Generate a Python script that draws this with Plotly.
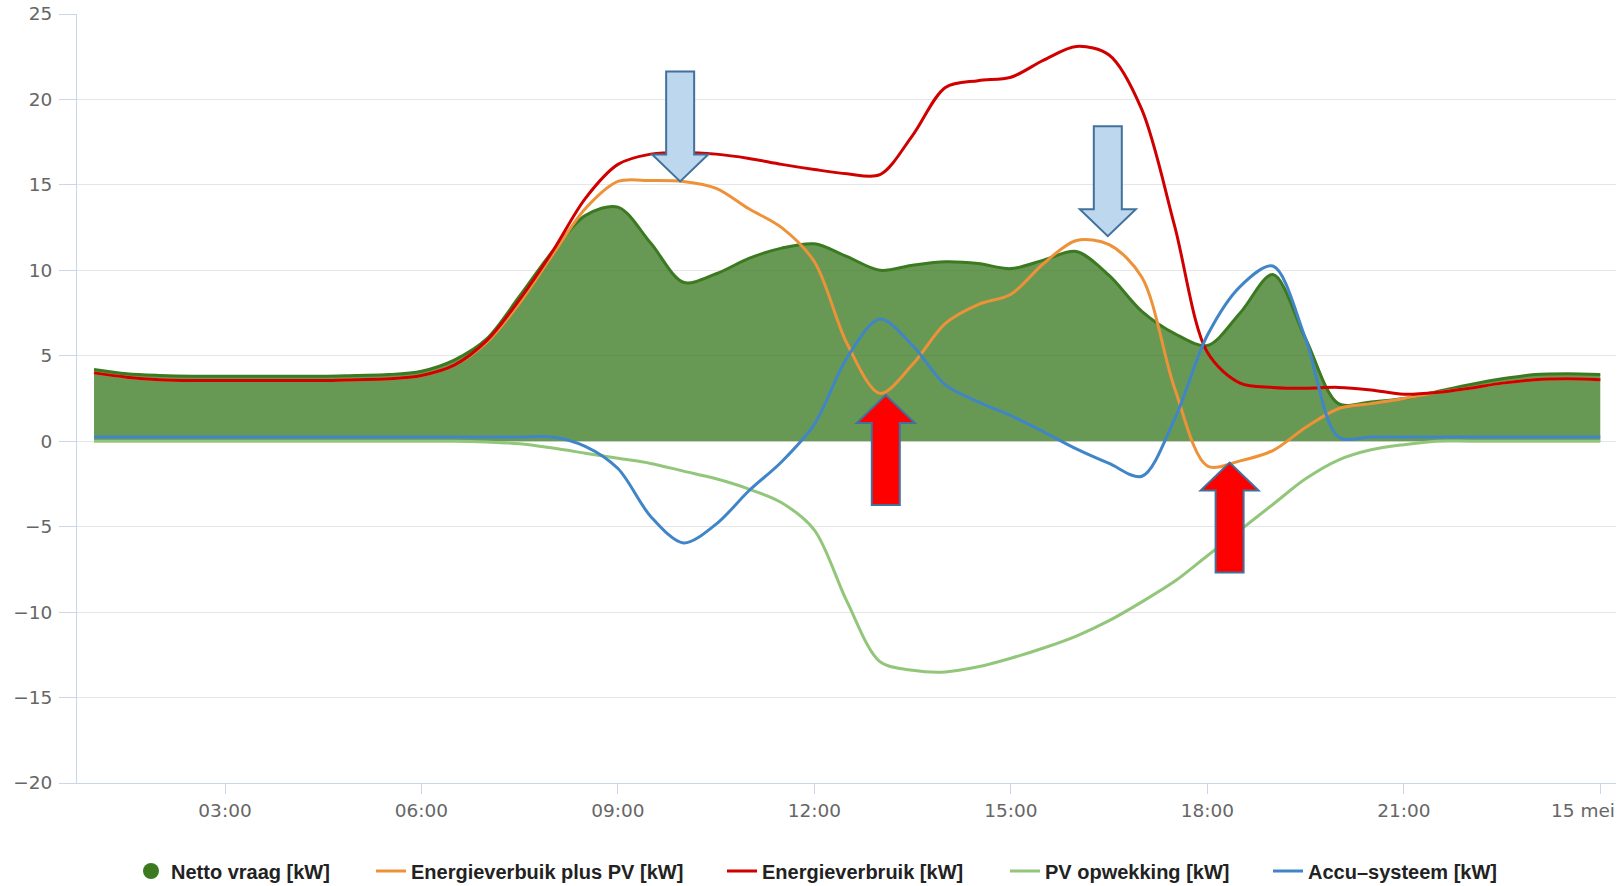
import plotly.graph_objects as go

# ---------------- data ----------------
hours = [1.0, 1.5, 2.0, 2.5, 3.0, 3.5, 4.0, 4.5, 5.0, 5.5, 6.0, 6.5, 7.0, 7.5,
         8.0, 8.5, 9.0, 9.5, 10.0, 10.5, 11.0, 11.5, 12.0, 12.5, 13.0, 13.5,
         14.0, 14.5, 15.0, 15.5, 16.0, 16.5, 17.0, 17.5, 18.0, 18.5, 19.0,
         19.5, 20.0, 20.5, 21.0, 21.5, 22.0, 22.5, 23.0, 23.5, 24.0]

netto_vraag = [4.2, 3.95, 3.85, 3.8, 3.8, 3.8, 3.8, 3.8, 3.85, 3.9, 4.1, 4.75,
               6.0, 8.5, 11.1, 13.2, 13.7, 11.6, 9.3, 9.8, 10.7, 11.3, 11.55,
               10.8, 10.0, 10.3, 10.5, 10.4, 10.1, 10.6, 11.1, 9.7, 7.6, 6.3,
               5.6, 7.5, 9.75, 6.0, 2.2, 2.3, 2.5, 2.9, 3.3, 3.65, 3.9, 3.95, 3.9]

verbruik_plus_pv = [4.0, 3.75, 3.6, 3.55, 3.55, 3.55, 3.55, 3.55, 3.6, 3.65, 3.85,
                    4.45, 5.8, 8.1, 10.9, 13.6, 15.2, 15.25, 15.2, 14.8, 13.6,
                    12.5, 10.5, 5.7, 2.8, 4.5, 6.9, 8.0, 8.6, 10.4, 11.75, 11.5,
                    9.6, 3.1, -1.45, -1.15, -0.55, 0.8, 1.9, 2.2, 2.5, 2.85,
                    3.1, 3.4, 3.6, 3.65, 3.6]

verbruik = [4.0, 3.75, 3.6, 3.55, 3.55, 3.55, 3.55, 3.55, 3.6, 3.65, 3.85, 4.45,
            5.9, 8.3, 11.1, 14.2, 16.2, 16.8, 16.9, 16.8, 16.55, 16.2, 15.9,
            15.65, 15.6, 17.9, 20.7, 21.1, 21.3, 22.3, 23.1, 22.6, 19.4, 12.6,
            5.2, 3.4, 3.15, 3.1, 3.15, 3.0, 2.75, 2.85, 3.1, 3.4, 3.6, 3.65, 3.6]

pv_opwekking = [0.0, 0.0, 0.0, 0.0, 0.0, 0.0, 0.0, 0.0, 0.0, 0.0, 0.0, 0.0,
                -0.05, -0.15, -0.4, -0.7, -1.0, -1.3, -1.75, -2.2, -2.8, -3.6,
                -5.2, -9.4, -12.9, -13.4, -13.5, -13.2, -12.7, -12.1, -11.4,
                -10.5, -9.4, -8.2, -6.7, -5.2, -3.7, -2.2, -1.1, -0.5, -0.2,
                0.0, 0.0, 0.0, 0.0, 0.0, 0.0]

accu_systeem = [0.25, 0.25, 0.25, 0.25, 0.25, 0.25, 0.25, 0.25, 0.25, 0.25, 0.25,
                0.25, 0.25, 0.25, 0.25, -0.3, -1.6, -4.4, -5.95, -4.85, -2.9,
                -1.2, 1.0, 4.9, 7.15, 5.6, 3.3, 2.3, 1.5, 0.55, -0.45, -1.3,
                -2.05, 1.3, 6.2, 9.05, 10.25, 6.0, 0.25, 0.25, 0.25, 0.25, 0.25,
                0.25, 0.25, 0.25, 0.25]

series_names = ["Netto vraag [kW]", "Energieverbuik plus PV [kW]",
                "Energieverbruik [kW]", "PV opwekking [kW]", "Accu\u2013systeem [kW]"]

x_tick_vals = [3, 6, 9, 12, 15, 18, 21, 24]
x_tick_text = ["03:00", "06:00", "09:00", "12:00", "15:00", "18:00", "21:00", "15 mei"]
y_tick_vals = [-20, -15, -10, -5, 0, 5, 10, 15, 20, 25]

# ---------------- styling ----------------
C_GREEN = "rgb(59,122,33)"
C_GREEN_FILL = "rgba(59,122,33,0.77)"
C_ORANGE = "rgb(238,146,57)"
C_RED = "rgb(208,0,0)"
C_PV = "rgb(146,198,122)"
C_BLUE = "rgb(64,133,199)"
AXIS_C = "#ccd6eb"
GRID_C = "#e6e6e6"
LW = 3

fig = go.Figure()

fig.add_trace(go.Scatter(x=hours, y=netto_vraag, name=series_names[0], mode="lines",
                         line=dict(color=C_GREEN, width=LW, shape="spline", smoothing=0.9),
                         fill="tozeroy", fillcolor=C_GREEN_FILL, showlegend=False))
# legend entry for the area (round symbol as in the reference)
fig.add_trace(go.Scatter(x=[None], y=[None], name=series_names[0], mode="markers",
                         marker=dict(color=C_GREEN, size=22), legend="legend"))
fig.add_trace(go.Scatter(x=hours, y=verbruik_plus_pv, name=series_names[1], mode="lines",
                         line=dict(color=C_ORANGE, width=LW, shape="spline", smoothing=0.9),
                         legend="legend2"))
fig.add_trace(go.Scatter(x=hours, y=verbruik, name=series_names[2], mode="lines",
                         line=dict(color=C_RED, width=LW, shape="spline", smoothing=0.9),
                         legend="legend3"))
fig.add_trace(go.Scatter(x=hours, y=pv_opwekking, name=series_names[3], mode="lines",
                         line=dict(color=C_PV, width=LW, shape="spline", smoothing=0.9),
                         legend="legend4"))
fig.add_trace(go.Scatter(x=hours, y=accu_systeem, name=series_names[4], mode="lines",
                         line=dict(color=C_BLUE, width=LW, shape="spline", smoothing=0.9),
                         legend="legend5"))

# ---------------- block arrows (annotation shapes, tip anchored in data space) ----------------
arrow_tips = [(9.95, 15.2, "down"), (16.48, 12.0, "down"), (13.09, 2.7, "up"), (18.34, -1.25, "up")]
DOWN_PATH = "M -14,110 L 14,110 L 14,27 L 28,27 L 0,0 L -28,27 L -14,27 Z"
UP_PATH = "M -14,-110 L 14,-110 L 14,-28 L 29,-28 L 0,0 L -29,-28 L -14,-28 Z"
for hx, vy, kind in arrow_tips:
    fig.add_shape(type="path", xref="x", yref="y", xsizemode="pixel", ysizemode="pixel",
                  xanchor=hx, yanchor=vy,
                  path=DOWN_PATH if kind == "down" else UP_PATH,
                  fillcolor="#bdd7ee" if kind == "down" else "#ff0000",
                  line=dict(color="#41719c", width=2), layer="above")

# ---------------- layout ----------------
W, H = 1622, 886
ML, MR, MT, MB = 77, 6, 14, 103
plot_h = H - MT - MB

legend_font = dict(family="Liberation Sans, Arial, sans-serif", size=20, color="#222222",
                   weight="bold")
legend_text_starts = [171, 411, 762, 1045, 1308]
legends = {}
for i, tx in enumerate(legend_text_starts):
    key = "legend" if i == 0 else f"legend{i + 1}"
    legends[key] = dict(x=(tx - 40) / W, xref="container", y=1 - 871 / H, yref="container",
                        xanchor="left", yanchor="middle",
                        orientation="h", font=legend_font, bgcolor="rgba(0,0,0,0)",
                        borderwidth=0, itemsizing="trace")

tick_font = dict(family="DejaVu Sans, Verdana, sans-serif", size=18.5, color="#666666")

# the last category label is kept inside the chart (shifted left like the reference)
shown_tick_text = x_tick_text[:-1] + [""]
fig.add_annotation(x=x_tick_vals[-1], xref="x", y=-27 / plot_h, yref="paper",
                   text=x_tick_text[-1], showarrow=False, xanchor="right", yanchor="middle",
                   xshift=16, font=tick_font, borderpad=0)

fig.update_layout(
    width=W, height=H,
    margin=dict(l=ML, r=MR, t=MT, b=MB, pad=0, autoexpand=False),
    paper_bgcolor="white", plot_bgcolor="white",
    showlegend=True,
    xaxis=dict(range=[0.74, 24.24], tickmode="array", tickvals=x_tick_vals, ticktext=shown_tick_text,
               showgrid=False, zeroline=False, showline=True, linecolor=AXIS_C, linewidth=1,
               ticks="outside", ticklen=10, tickcolor=AXIS_C, tickwidth=1,
               tickfont=tick_font, ticklabelstandoff=1, ticklabeloverflow="allow",
               fixedrange=True),
    yaxis=dict(range=[-20, 25], tickmode="array", tickvals=y_tick_vals,
               showgrid=True, gridcolor=GRID_C, gridwidth=1, zeroline=False,
               showline=True, linecolor=AXIS_C, linewidth=1,
               ticks="outside", ticklen=17, tickcolor=AXIS_C, tickwidth=1,
               tickfont=tick_font, ticklabelstandoff=3, fixedrange=True),
    **legends,
)

fig.write_html("out.html", config={"displayModeBar": False},
               post_script="document.body.style.margin='0';")
